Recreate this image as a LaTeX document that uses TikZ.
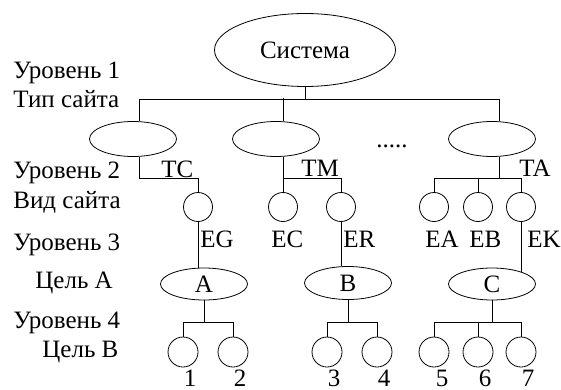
\documentclass[tikz,border=0pt]{standalone}
\usepackage{fontspec}
\setmainfont{Liberation Serif}
\usetikzlibrary{shapes.geometric, positioning}

\tikzset{
  oval/.style={draw, ellipse, inner sep=0pt, minimum width=87pt, minimum height=35pt},
  ring/.style={draw, circle, inner sep=0pt, minimum size=29pt},
  lvl/.style={anchor=base west, inner sep=0pt},
  tag/.style={anchor=base west, inner sep=0pt},
  num/.style={anchor=base, inner sep=0pt}
}

\begin{document}
\begin{tikzpicture}[x=1pt, y=-1pt, line width=0.8pt, font=\fontsize{25}{30}\selectfont]
    \useasboundingbox (0,0) rectangle (561,390);

    % Level labels on the left
    \node[lvl] (u1) at (13,79) {Уровень 1};
    \node[lvl] (tip) at (13,108) {Тип сайта};
    \node[lvl] (u2) at (13,178) {Уровень 2};
    \node[lvl] (vid) at (13,208) {Вид сайта};
    \node[lvl] (u3) at (13,250) {Уровень 3};
    \node[lvl] (goalA) at (35,288) {Цель А};
    \node[lvl] (u4) at (13,328) {Уровень 4};
    \node[lvl] (goalB) at (42,357) {Цель В};

    % Root
    \node[oval, minimum width=181pt, minimum height=73pt] (sys) at (305,50) {Система};

    % Site types
    \node[oval] (t1) at (133,139) {};
    \node[oval] (t2) at (276,139) {};
    \node[oval] (t3) at (492,139) {};
    \node[anchor=base, inner sep=0pt] (dots) at (392,147) {.....};

    \draw (sys.south) -- ++(0,13) coordinate (b0);
    \draw ([xshift=6pt]t1.north) |- (b0) -| ([xshift=7pt]t3.north);
    \draw ([xshift=7pt]t2.north) -- ++(0,-23);

    % Site kinds
    \node[ring] (cTC) at (198,207) {};
    \node[ring] (cEC) at (283,207) {};
    \node[ring] (cER) at (341,207) {};
    \node[ring] (cEA) at (434,207) {};
    \node[ring] (cEB) at (478,207) {};
    \node[ring] (cEK) at (521,207) {};

    \node[tag] (lTC) at (161,177) {TC};
    \node[tag] (lTM) at (301,176) {TM};
    \node[tag] (lTA) at (519,176) {TA};

    \draw ([xshift=6pt]t1.south) -- ++(0,21) -| (cTC.north);
    \draw ([xshift=7pt]t2.south) -- ++(0,21) coordinate (b2) -| (cER.north);
    \draw (b2) -- (cEC.north);
    \draw ([xshift=7pt]t3.south) -- ++(0,21) coordinate (b3);
    \draw (cEA.north) |- (b3) -| (cEK.north);
    \draw (cEB.north) -- (cEB.north |- b3);

    % Goals A, B, C
    \node[oval, minimum height=32pt] (A) at (204,284) {A};
    \node[oval, minimum height=33pt] (B) at (348,283) {B};
    \node[oval, minimum height=32pt] (C) at (492,284) {C};

    \node[tag] (lEG) at (200,247) {EG};
    \node[tag] (lEC) at (271,247) {EC};
    \node[tag] (lER) at (343,247) {ER};
    \node[tag] (lEA) at (425,247) {EA};
    \node[tag] (lEB) at (469,247) {EB};
    \node[tag] (lEK) at (527,247) {EK};

    \draw (cTC.south) -- (cTC.south |- A.north);
    \draw (cER.south) -- (cER.south |- B.north);
    \draw (cEK.south) -- (cEK.south |- C.22);

    % Goals B
    \foreach \i/\x in {1/183, 2/233, 3/327, 4/377, 5/434, 6/478, 7/521} {
        \node[ring, minimum size=30pt] (n\i) at (\x,352) {};
    }
    \foreach \i/\x in {1/190, 2/240, 3/334, 4/384, 5/442, 6/485, 7/528} {
        \node[num] (k\i) at (\x,386) {\i};
    }

    \draw (A.south) -- ++(0,22) coordinate (a4);
    \draw (n1.north) |- (a4) -| (n2.north);
    \draw (B.south) -- ++(0,22) coordinate (bb4);
    \draw (n3.north) |- (bb4) -| (n4.north);
    \draw (C.south) -- ++(0,22) coordinate (c4);
    \draw (n5.north) |- (c4) -| (n7.north);
    \draw (n6.north) -- (n6.north |- c4);
\end{tikzpicture}
\end{document}
